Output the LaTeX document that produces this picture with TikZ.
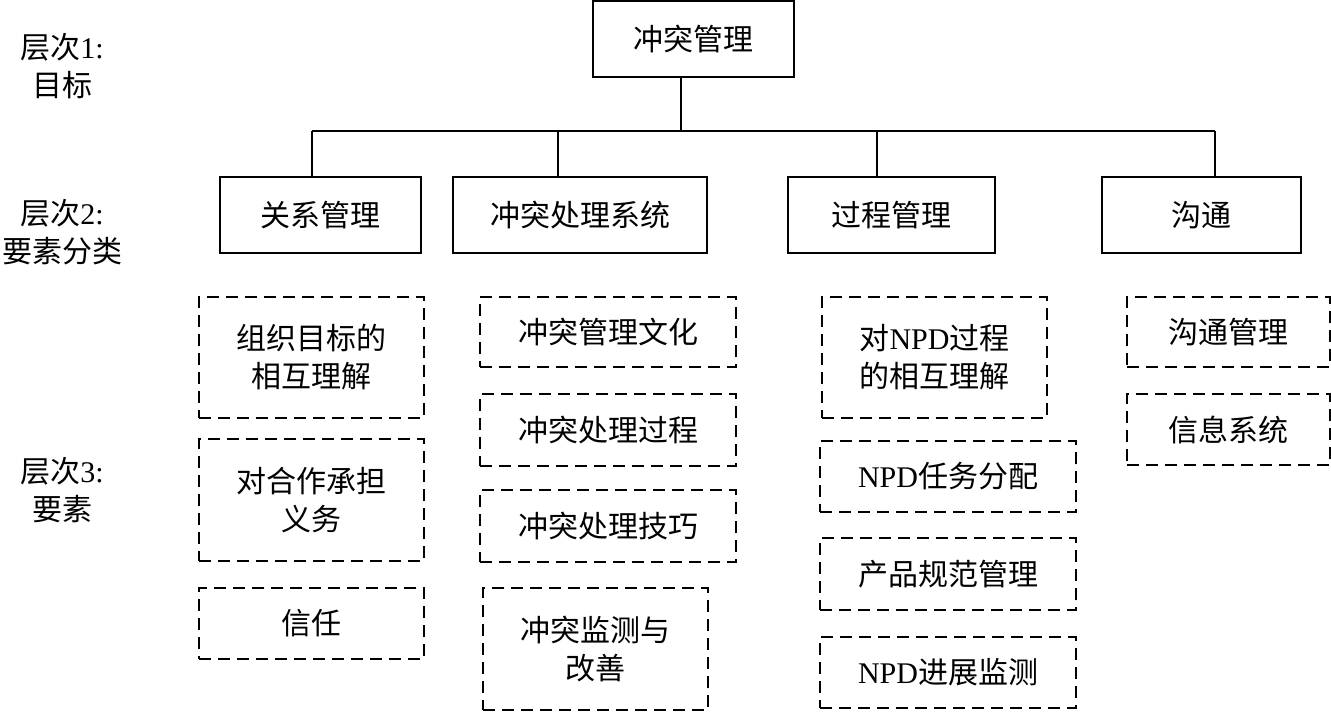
\documentclass[tikz,border=0pt]{standalone}
\usepackage{fontspec}
\setmainfont{Liberation Serif}
\newfontfamily\cjk{Noto Sans CJK SC}
\begin{document}
\begin{tikzpicture}[x=1pt,y=-1pt,
  every node/.style={font=\fontsize{30}{38}\selectfont\cjk, inner sep=0pt, align=center},
  solidbox/.style={draw, line width=2.2pt, minimum width=#1, minimum height=76pt},
  dbox/.style={draw, line width=2pt, dash pattern=on 12pt off 7pt},
  conn/.style={line width=2pt},
  lvl/.style={font=\fontsize{30}{38}\selectfont\cjk}]
\useasboundingbox (0,0) rectangle (1331,712);
% level labels
\node[lvl] (l1) at (62,66) {层次{\rmfamily 1:}\\目标};
\node[lvl] (l2) at (62,232) {层次{\rmfamily 2:}\\要素分类};
\node[lvl] (l3) at (62,490) {层次{\rmfamily 3:}\\要素};
% top
\node[solidbox=201pt, minimum height=76pt] (top) at (693.5,39) {冲突管理};
% level 2
\node[solidbox=201pt] (n1) at (320.5,215) {关系管理};
\node[solidbox=254pt] (n2) at (580,215) {冲突处理系统};
\node[solidbox=207pt] (n3) at (891.5,215) {过程管理};
\node[solidbox=199pt] (n4) at (1201.5,215) {沟通};
% bus
\coordinate (j0) at (681,131);
\coordinate (j1) at (312,131);
\coordinate (j2) at (558,131);
\coordinate (j3) at (877,131);
\coordinate (j4) at (1215,131);
\draw[conn] (j0 |- top.south) -- (j0);
\draw[conn] (j1) -- (j4);
\draw[conn] (j1) -- (j1 |- n1.north);
\draw[conn] (j2) -- (j2 |- n2.north);
\draw[conn] (j3) -- (j3 |- n3.north);
\draw[conn] (j4) -- (j4 |- n4.north);
% level 3 column 1
\node[dbox, minimum width=225pt, minimum height=121pt] (a1) at (311.5,357.5) {组织目标的\\相互理解};
\node[dbox, minimum width=225pt, minimum height=122pt] (a2) at (311.5,500) {对合作承担\\义务};
\node[dbox, minimum width=225pt, minimum height=71pt] (a3) at (311.5,623.5) {信任};
% column 2
\node[dbox, minimum width=256pt, minimum height=70pt] (b1) at (608,332) {冲突管理文化};
\node[dbox, minimum width=256pt, minimum height=72pt] (b2) at (608,430) {冲突处理过程};
\node[dbox, minimum width=256pt, minimum height=72pt] (b3) at (608,526) {冲突处理技巧};
\node[dbox, minimum width=225pt, minimum height=122pt] (b4) at (595.5,649) {冲突监测与\\改善};
% column 3
\node[dbox, minimum width=225pt, minimum height=121pt] (c1) at (934.5,357.5) {对{\rmfamily NPD}过程\\的相互理解};
\node[dbox, minimum width=256pt, minimum height=71pt] (c2) at (948,476.5) {{\rmfamily NPD}任务分配};
\node[dbox, minimum width=256pt, minimum height=72pt] (c3) at (948,574) {产品规范管理};
\node[dbox, minimum width=256pt, minimum height=71pt] (c4) at (948,672.5) {{\rmfamily NPD}进展监测};
% column 4
\node[dbox, minimum width=203pt, minimum height=70pt] (d1) at (1228.5,332) {沟通管理};
\node[dbox, minimum width=203pt, minimum height=71pt] (d2) at (1228.5,429.5) {信息系统};
\end{tikzpicture}
\end{document}
